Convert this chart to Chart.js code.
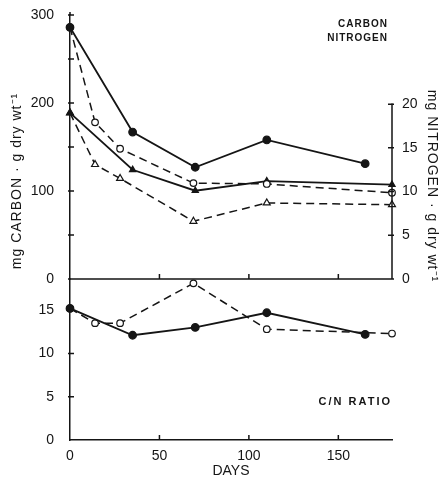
<!DOCTYPE html>
<html>
<head>
<meta charset="utf-8">
<script src="https://cdn.jsdelivr.net/npm/chart.js@4.4.0/dist/chart.umd.min.js"></script>
<style>
  html, body { margin: 0; padding: 0; background: #fff; }
  .box { position: absolute; left: 0; width: 440px; }
</style>
</head>
<body>
<div class="box" style="top:0;height:290px"><canvas id="topChart"></canvas></div>
<div class="box" style="top:270px;height:213px"><canvas id="bottomChart"></canvas></div>
<script>
'use strict';
// дни отбора проб
const daysA = [0, 35, 70, 110, 165];
const daysB = [0, 14, 28, 69, 110, 180];
const daysNA = [0, 35, 70, 110, 180];
// углерод, мг / г сухой массы
const carbonA = [286, 167, 127, 158, 131];
const carbonB = [286, 178, 148, 109, 108, 98];
// азот, мг / г сухой массы
const nitrogenA = [19.0, 12.5, 10.1, 11.2, 10.8];
const nitrogenB = [19.0, 13.1, 11.5, 6.6, 8.7, 8.5];
// отношение C/N
const ratioA = [15.2, 12.1, 13.0, 14.7, 12.2];
const ratioB = [15.2, 13.5, 13.5, 18.1, 12.8, 12.3];
// деления осей
const dayTicks = [0, 50, 100, 150];
const carbonTicks = [0, 50, 100, 150, 200, 250, 300];
const nitrogenTicks = [0, 5, 10, 15, 20];
const ratioTicks = [0, 5, 10, 15];

const ink = '#151515';
const sans = "'Liberation Sans', Arial, sans-serif";

const pts = (xs, ys) => xs.map((x, i) => ({x: x, y: ys[i]}));

// одна линия графика
function series(xs, ys, axis, filled, shape) {
  return {
    data: pts(xs, ys),
    yAxisID: axis,
    borderColor: ink,
    borderWidth: filled ? 1.8 : 1.5,
    borderDash: filled ? [] : [8, 5],
    pointStyle: shape,
    pointRadius: shape === 'triangle' ? (filled ? 3.6 : 4) : (filled ? 3.8 : 3.3),
    pointBackgroundColor: filled ? ink : '#fff',
    pointBorderColor: ink,
    pointBorderWidth: 1.2,
    tension: 0,
    clip: false
  };
}

// фиксированная ширина оси и без запаса под подписи
function fixWidth(w) {
  return s => {
    s.width = w;
    s.paddingTop = 0;
    s.paddingBottom = 0;
  };
}

// рисует короткие штрихи внутрь области графика
function ticksY(ctx, scale, values, x, dir) {
  values.forEach(v => {
    const y = scale.getPixelForValue(v);
    ctx.moveTo(x - 2 * dir, y);
    ctx.lineTo(x + 4 * dir, y);
  });
}
function ticksX(ctx, scale, values, y) {
  values.forEach(v => {
    if (v === 0) return;
    const x = scale.getPixelForValue(v);
    ctx.moveTo(x, y);
    ctx.lineTo(x, y - 5);
  });
}

function rotatedText(ctx, text, x, y, angle) {
  ctx.save();
  ctx.translate(x, y);
  ctx.rotate(angle);
  ctx.textAlign = 'center';
  ctx.textBaseline = 'middle';
  ctx.fillText(text, 0, 0);
  ctx.restore();
}

const topFrame = {
  id: 'topFrame',
  afterDraw(chart) {
    const {ctx, chartArea: a, scales} = chart;
    ctx.save();
    ctx.strokeStyle = ink;
    ctx.lineWidth = 1.5;
    ctx.beginPath();
    // нижняя граница верхней панели
    ctx.moveTo(a.left, a.bottom);
    ctx.lineTo(a.right, a.bottom);
    ticksX(ctx, scales.x, dayTicks, a.bottom);
    ticksY(ctx, scales.yC, carbonTicks, a.left, 1);
    ctx.moveTo(a.left, a.top);
    ctx.lineTo(a.left, a.top - 3);
    // правая ось азота только от 0 до 20
    ctx.moveTo(a.right, scales.yN.getPixelForValue(0));
    ctx.lineTo(a.right, scales.yN.getPixelForValue(20) - 1);
    ticksY(ctx, scales.yN, nitrogenTicks, a.right, -1);
    ctx.stroke();

    ctx.fillStyle = ink;
    ctx.letterSpacing = '1px';
    ctx.font = 'bold 10px ' + sans;
    ctx.textAlign = 'right';
    ctx.textBaseline = 'middle';
    ctx.fillText('CARBON', 388, 24);
    ctx.fillText('NITROGEN', 388, 38);

    ctx.font = '14px ' + sans;
    rotatedText(ctx, 'mg CARBON · g dry wt⁻¹', 17, 181, -Math.PI / 2);
    rotatedText(ctx, 'mg NITROGEN · g dry wt⁻¹', 432, 186, Math.PI / 2);
    ctx.restore();
  }
};

const bottomFrame = {
  id: 'bottomFrame',
  afterDraw(chart) {
    const {ctx, chartArea: a, scales} = chart;
    ctx.save();
    ctx.strokeStyle = ink;
    ctx.lineWidth = 1.5;
    ctx.beginPath();
    ticksX(ctx, scales.x, dayTicks, a.bottom);
    ticksY(ctx, scales.yR, ratioTicks.slice(1), a.left, 1);
    ctx.stroke();

    ctx.fillStyle = ink;
    ctx.letterSpacing = '2px';
    ctx.font = 'bold 11px ' + sans;
    ctx.textAlign = 'right';
    ctx.textBaseline = 'middle';
    ctx.fillText('C/N RATIO', 392, 132);
    ctx.restore();
  }
};

const tickFont = {family: sans, size: 14};

// Верхняя панель: углерод и азот
new Chart(document.getElementById('topChart'), {
  type: 'line',
  data: {
    datasets: [
      series(daysA, carbonA, 'yC', true, 'circle'),
      series(daysB, carbonB, 'yC', false, 'circle'),
      series(daysNA, nitrogenA, 'yN', true, 'triangle'),
      series(daysB, nitrogenB, 'yN', false, 'triangle')
    ]
  },
  options: {
    responsive: true,
    maintainAspectRatio: false,
    animation: false,
    layout: {padding: {top: 15, bottom: 11, left: 0, right: 0}},
    plugins: {legend: {display: false}, tooltip: {enabled: false}},
    scales: {
      x: {type: 'linear', min: 0, max: 180, display: false},
      yC: {
        position: 'left', min: 0, max: 300,
        afterFit: fixWidth(70),
        ticks: {
          stepSize: 50, includeBounds: false, padding: 16, color: ink, font: tickFont,
          callback: v => (v % 100 === 0 ? v : '')
        },
        grid: {display: true, drawOnChartArea: false, drawTicks: false},
        border: {display: true, color: ink, width: 1.5}
      },
      yN: {
        position: 'right', min: 0, max: 30.2,
        afterFit: fixWidth(48),
        ticks: {
          stepSize: 5, includeBounds: false, padding: 10, color: ink, font: tickFont,
          callback: v => (v <= 20 ? v : '')
        },
        grid: {display: false, drawTicks: false},
        border: {display: false}
      }
    }
  },
  plugins: [topFrame]
});

// Нижняя панель: отношение C/N
new Chart(document.getElementById('bottomChart'), {
  type: 'line',
  data: {
    datasets: [
      series(daysA, ratioA, 'yR', true, 'circle'),
      series(daysB, ratioB, 'yR', false, 'circle')
    ]
  },
  options: {
    responsive: true,
    maintainAspectRatio: false,
    animation: false,
    layout: {padding: {top: 9, bottom: 0, left: 0, right: 48}},
    plugins: {legend: {display: false}, tooltip: {enabled: false}},
    scales: {
      x: {
        type: 'linear', min: 0, max: 180,
        afterFit: s => { s.height = 43; s.paddingLeft = 0; s.paddingRight = 0; },
        ticks: {stepSize: 50, includeBounds: false, padding: 8, color: ink, font: tickFont},
        grid: {display: true, drawOnChartArea: false, drawTicks: false},
        border: {display: true, color: ink, width: 1.5},
        title: {display: true, text: 'DAYS', color: ink, font: {family: sans, size: 14}, padding: {top: 0, bottom: 3}}
      },
      yR: {
        position: 'left', min: 0, max: 18.6,
        afterFit: fixWidth(70),
        ticks: {stepSize: 5, includeBounds: false, padding: 16, color: ink, font: tickFont},
        grid: {display: true, drawOnChartArea: false, drawTicks: false},
        border: {display: true, color: ink, width: 1.5}
      }
    }
  },
  plugins: [bottomFrame]
});
</script>
</body>
</html>
